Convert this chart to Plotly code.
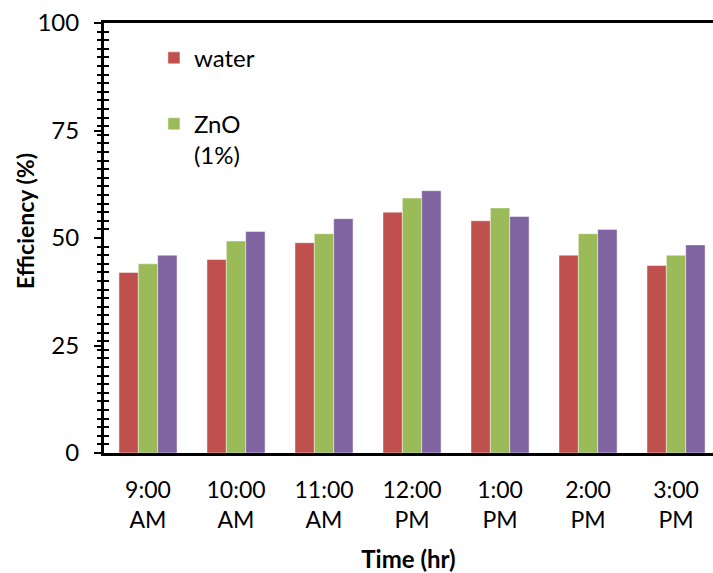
import plotly.graph_objects as go

categories = ["9:00<br>AM", "10:00<br>AM", "11:00<br>AM", "12:00<br>PM", "1:00<br>PM", "2:00<br>PM", "3:00<br>PM"]
water = [42, 45, 48.9, 56, 54, 46, 43.6]
zno = [44, 49.3, 51, 59.3, 57, 51, 46]
third = [46, 51.5, 54.5, 61, 55, 52, 48.4]

series_names = ["water", "ZnO<br>(1%)", "series 3"]
colors = ["#C0504D", "#9BBB59", "#8064A2"]

FONT = "Lato"
x_idx = list(range(len(categories)))

fig = go.Figure()
fig.add_trace(go.Bar(x=x_idx, y=water, name=series_names[0], marker_color=colors[0],
                     marker_line=dict(color="rgba(255,255,255,0.45)", width=1), legend="legend"))
fig.add_trace(go.Bar(x=x_idx, y=zno, name=series_names[1], marker_color=colors[1],
                     marker_line=dict(color="rgba(255,255,255,0.45)", width=1), legend="legend2"))
fig.add_trace(go.Bar(x=x_idx, y=third, name=series_names[2], marker_color=colors[2],
                     marker_line=dict(color="rgba(255,255,255,0.45)", width=1), showlegend=False))
# invisible trace to carry the overlay axis with inside minor ticks
fig.add_trace(go.Scatter(x=[0], y=[0], yaxis="y2", mode="markers", marker=dict(opacity=0),
                         showlegend=False, hoverinfo="skip"))

fig.update_layout(
    width=713, height=573,
    margin=dict(l=104, r=0, t=23, b=120),
    paper_bgcolor="white", plot_bgcolor="white",
    barmode="group", bargap=0.34, bargroupgap=0,
    font=dict(family=FONT, size=23, color="black"),
    xaxis=dict(
        range=[-0.5, 6.42], tickmode="array", tickvals=x_idx, ticktext=categories,
        showline=True, linewidth=3, linecolor="black", mirror=True,
        ticks="", showgrid=False, zeroline=False, ticklabelstandoff=14,
        tickfont=dict(family=FONT, size=23),
        title=dict(text="<b>Time (hr)</b>", font=dict(family=FONT, size=24), standoff=22),
    ),
    yaxis=dict(
        range=[0, 100], tickmode="linear", tick0=0, dtick=25,
        showline=True, linewidth=3, linecolor="black",
        ticks="outside", ticklen=7, tickwidth=2, tickcolor="black",
        minor=dict(ticks="outside", dtick=2, tick0=0, ticklen=4, tickwidth=2, tickcolor="black"),
        showgrid=False, zeroline=False, ticklabelstandoff=10,
        tickfont=dict(family=FONT, size=24),
    ),
    yaxis2=dict(
        overlaying="y", side="left", range=[0, 100], showticklabels=False,
        tickmode="linear", tick0=0, dtick=25, ticks="", showgrid=False, zeroline=False,
        showline=False,
        minor=dict(ticks="inside", dtick=2, tick0=0, ticklen=5, tickwidth=2, tickcolor="black"),
    ),
    legend=dict(x=0.082, y=0.918, xanchor="left", yanchor="middle", bgcolor="rgba(0,0,0,0)",
                font=dict(family=FONT, size=24)),
    legend2=dict(x=0.082, y=0.817, xanchor="left", yanchor="top", valign="top",
                 bgcolor="rgba(0,0,0,0)", font=dict(family=FONT, size=24)),
    annotations=[dict(text="<b>Efficiency (%)</b>", textangle=-90, xref="paper", yref="paper",
                      x=(25 - 104) / 609, y=(453 - 221) / 430, xanchor="center", yanchor="middle",
                      showarrow=False, font=dict(family=FONT, size=23))],
)

fig.write_html("out.html")
